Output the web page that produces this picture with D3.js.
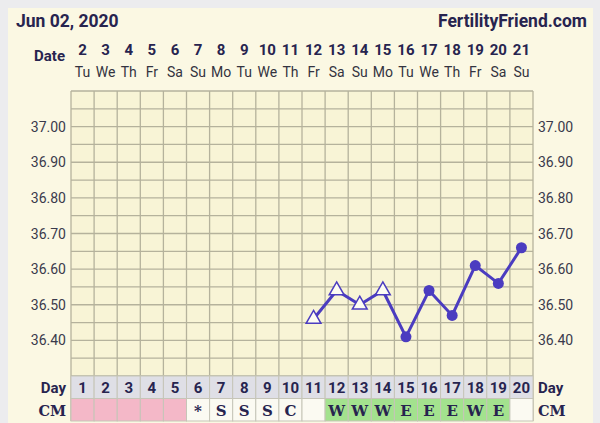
<!DOCTYPE html>
<html>
<head>
<meta charset="utf-8">
<script src="https://cdn.jsdelivr.net/npm/d3@7"></script>
<style>
  body { margin: 0; background: #ececee; }
  svg { display: block; font-family: Roboto, "Noto Sans", sans-serif; }
</style>
</head>
<body>
<svg width="600" height="423"></svg>
<script>
const dates = [2, 3, 4, 5, 6, 7, 8, 9, 10, 11, 12, 13, 14, 15, 16, 17, 18, 19, 20, 21];
const weekdays = ['Tu', 'We', 'Th', 'Fr', 'Sa', 'Su', 'Mo', 'Tu', 'We', 'Th', 'Fr', 'Sa', 'Su', 'Mo', 'Tu', 'We', 'Th', 'Fr', 'Sa', 'Su'];
const cycleDays = d3.range(1, 21);
const cm = ['', '', '', '', '', '*', 'S', 'S', 'S', 'C', '', 'W', 'W', 'W', 'E', 'E', 'E', 'W', 'E', ''];
const cmKind = ['p', 'p', 'p', 'p', 'p', 'n', 'n', 'n', 'n', 'n', 'n', 'g', 'g', 'g', 'g', 'g', 'g', 'g', 'g', 'n'];
const tempDays = [11, 12, 13, 14, 15, 16, 17, 18, 19, 20];
const temps = [36.46, 36.54, 36.50, 36.54, 36.41, 36.54, 36.47, 36.61, 36.56, 36.66];
const marker = ['tri', 'tri', 'tri', 'tri', 'dot', 'dot', 'dot', 'dot', 'dot', 'dot'];
const yTicks = [37.0, 36.9, 36.8, 36.7, 36.6, 36.5, 36.4];

const svg = d3.select('svg');
const navy = '#27244f';
const gridColor = '#b5b29c';
const purple = '#4b3cc0';

svg.append('rect')
  .attr('x', 8).attr('y', 8).attr('width', 585).attr('height', 420)
  .attr('fill', '#fbf8e3');

const x = d3.scaleBand().domain(cycleDays).range([71, 533]);
const y = d3.scaleLinear().domain([36.30, 37.10]).range([376, 91]);

// grid background
svg.append('rect')
  .attr('x', 71).attr('y', 91).attr('width', 462).attr('height', 285)
  .attr('fill', '#f8f4d6');

const gridG = svg.append('g');
gridG.selectAll('line.h')
  .data(d3.range(36.30, 37.1001, 0.05))
  .enter().append('line')
    .attr('x1', 71).attr('x2', 533)
    .attr('y1', d => y(d)).attr('y2', d => y(d))
    .attr('stroke', gridColor).attr('stroke-width', 1.3);
gridG.selectAll('line.v')
  .data(cycleDays.concat([21]))
  .enter().append('line')
    .attr('x1', d => d === 21 ? 533 : x(d)).attr('x2', d => d === 21 ? 533 : x(d))
    .attr('y1', 91).attr('y2', 421)
    .attr('stroke', gridColor).attr('stroke-width', 1.3);

// header
svg.append('text').attr('x', 16).attr('y', 27)
  .attr('font-size', 17.5).attr('font-weight', 'bold').attr('fill', navy)
  .text('Jun 02, 2020');
svg.append('text').attr('x', 587).attr('y', 27).attr('text-anchor', 'end')
  .attr('font-size', 17.5).attr('font-weight', 'bold').attr('fill', navy)
  .text('FertilityFriend.com');
svg.append('text').attr('x', 65).attr('y', 61).attr('text-anchor', 'end')
  .attr('font-size', 15).attr('font-weight', 'bold').attr('fill', navy)
  .text('Date');

svg.selectAll('text.date').data(dates).enter().append('text')
  .attr('x', (d, i) => x(cycleDays[i]) + x.bandwidth() / 2)
  .attr('y', 55).attr('text-anchor', 'middle')
  .attr('font-size', 15).attr('font-weight', 'bold').attr('fill', navy)
  .text(d => d);
svg.selectAll('text.wd').data(weekdays).enter().append('text')
  .attr('x', (d, i) => x(cycleDays[i]) + x.bandwidth() / 2)
  .attr('y', 77).attr('text-anchor', 'middle')
  .attr('font-size', 14).attr('fill', '#333340')
  .text(d => d);

// y labels both sides
yTicks.forEach(t => {
  svg.append('text').attr('x', 66).attr('y', y(t) + 5).attr('text-anchor', 'end')
    .attr('font-size', 14).attr('fill', '#3a3a4c').text(t.toFixed(2));
  svg.append('text').attr('x', 538).attr('y', y(t) + 5)
    .attr('font-size', 14).attr('fill', '#3a3a4c').text(t.toFixed(2));
});

// Day row
const dayY = 376, rowH = 22.5;
svg.selectAll('rect.day').data(cycleDays).enter().append('rect')
  .attr('x', d => x(d)).attr('y', dayY)
  .attr('width', x.bandwidth()).attr('height', rowH)
  .attr('fill', '#dfdfe6').attr('stroke', '#c6c5b8');
svg.selectAll('text.day').data(cycleDays).enter().append('text')
  .attr('x', d => x(d) + x.bandwidth() / 2).attr('y', dayY + 17)
  .attr('text-anchor', 'middle').attr('font-size', 15).attr('font-weight', 'bold')
  .attr('fill', navy).text(d => d);

// CM row
const cmFill = { p: '#f4b8c8', g: '#a3e28e', n: '#fbfaf2' };
svg.selectAll('rect.cm').data(cycleDays).enter().append('rect')
  .attr('x', d => x(d)).attr('y', dayY + rowH)
  .attr('width', x.bandwidth()).attr('height', rowH)
  .attr('fill', (d, i) => cmFill[cmKind[i]]).attr('stroke', '#c6c5b8');
svg.selectAll('text.cm').data(cycleDays).enter().append('text')
  .attr('x', d => x(d) + x.bandwidth() / 2).attr('y', dayY + rowH + 17)
  .attr('text-anchor', 'middle').attr('font-size', 15).attr('font-weight', 'bold')
  .attr('font-family', '"DejaVu Serif", serif')
  .attr('fill', navy).text((d, i) => cm[i]);

[['Day', 'sans', dayY + 17], ['CM', 'serif', dayY + rowH + 17]].forEach(([t, f, yy]) => {
  const fam = f === 'serif' ? '"DejaVu Serif", serif' : 'Roboto, sans-serif';
  const fs = f === 'serif' ? 14.5 : 15;
  svg.append('text').attr('x', 66).attr('y', yy).attr('text-anchor', 'end')
    .attr('font-size', fs).attr('font-weight', 'bold').attr('font-family', fam)
    .attr('fill', navy).text(t);
  svg.append('text').attr('x', 538).attr('y', yy)
    .attr('font-size', fs).attr('font-weight', 'bold').attr('font-family', fam)
    .attr('fill', navy).text(t);
});

// temperature line
const cx = d => x(d) + x.bandwidth() / 2;
const line = d3.line().x(d => cx(d[0])).y(d => y(d[1]));
svg.append('path')
  .datum(tempDays.map((d, i) => [d, temps[i]]))
  .attr('d', line).attr('fill', 'none')
  .attr('stroke', purple).attr('stroke-width', 3);

const pts = svg.selectAll('g.pt').data(tempDays.map((d, i) => ({ d, t: temps[i], m: marker[i] })))
  .enter().append('g')
  .attr('transform', p => `translate(${cx(p.d)},${y(p.t)})`);
pts.filter(p => p.m === 'dot').append('circle')
  .attr('r', 5.5).attr('fill', purple);
pts.filter(p => p.m === 'tri').append('path')
  .attr('d', d3.symbol(d3.symbolTriangle, 95)())
  .attr('fill', '#fdfcf2').attr('stroke', purple).attr('stroke-width', 1.5);
</script>
</body>
</html>
